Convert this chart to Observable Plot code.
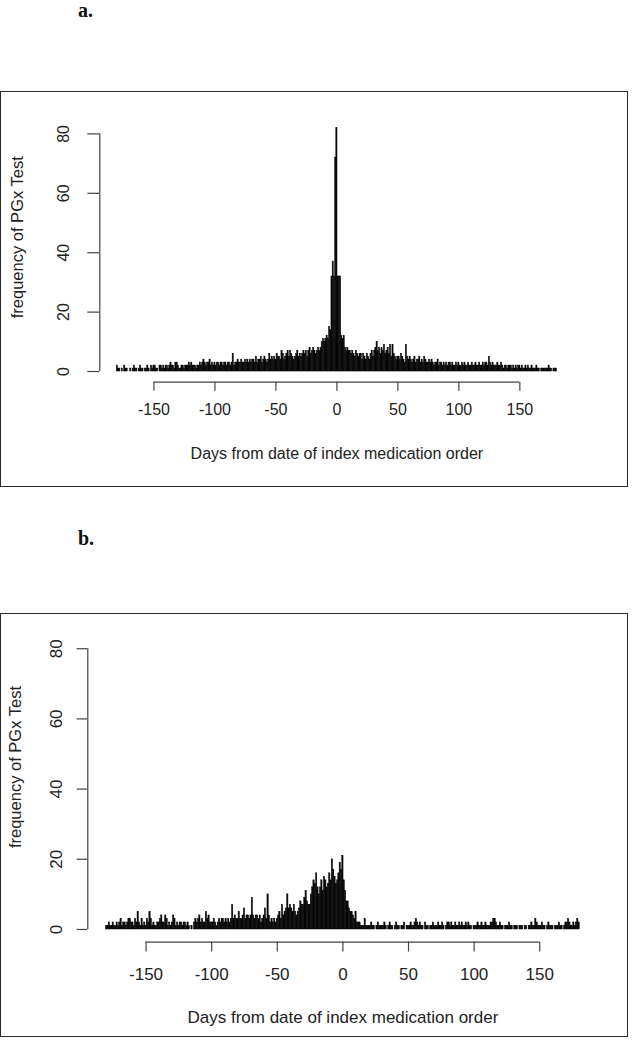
<!DOCTYPE html>
<html><head><meta charset="utf-8">
<script src="https://cdn.jsdelivr.net/npm/d3@7"></script>
<script src="https://cdn.jsdelivr.net/npm/@observablehq/plot@0.6"></script>
<style>
body{margin:0;background:#fff;width:642px;height:1050px;position:relative;overflow:hidden;font-family:"Liberation Sans",Arial,sans-serif;}
.box{position:absolute;left:0;width:628px;box-sizing:border-box;border:1.5px solid #2b2b2b;}
.lab{position:absolute;left:78px;font-family:"Liberation Serif",serif;font-weight:bold;font-size:20px;line-height:1;color:#111;}
.plot{position:absolute;left:0;}
.plot svg{overflow:visible;}
</style></head><body>
<div class="lab" style="top:0px">a.</div>
<div class="box" style="top:91px;height:396px"></div>
<div class="lab" style="top:528px">b.</div>
<div class="box" style="top:613px;height:424px"></div>
<div class="plot" id="pa" style="top:91px"></div>
<div class="plot" id="pb" style="top:600px"></div>
<script>
// days from index medication order
const days = d3.range(-180, 181);
const xTicks = [-150, -100, -50, 0, 50, 100, 150];
const yTicks = [0, 20, 40, 60, 80];
const xTitle = "Days from date of index medication order";
const yTitle = "frequency of PGx Test";

// panel a: frequency per day (-180..180)
const freqA = [
  2,1,1,0,1,0,2,1,1,0, 0,1,0,1,2,1,1,0,1,2, 1,1,0,1,1,2,1,0,2,1,
  2,2,1,1,0,2,2,1,2,1, 2,2,1,2,3,2,2,1,3,3, 2,1,1,2,2,1,2,2,2,3,
  2,3,2,2,2,1,2,2,3,2, 3,4,3,2,3,3,4,2,3,2, 3,2,3,3,2,3,3,2,3,3,
  2,3,3,2,3,6,2,3,3,4, 3,3,4,3,3,4,3,4,3,4, 3,4,4,3,5,3,4,4,5,3,
  4,5,4,3,4,6,4,5,4,5, 4,6,5,5,4,7,6,4,5,6, 7,5,7,6,5,4,5,6,7,5,
  6,5,6,7,6,7,5,7,8,6, 7,8,7,6,7,8,7,8,10,11, 10,11,12,11,15,14,32,37,32,72,
  82,
  32,32,32,12,11,12,8,7,8,7, 7,6,7,6,5,7,6,5,6,6, 4,6,5,4,6,5,4,6,7,5,
  7,8,10,7,8,6,8,7,9,6, 7,8,6,9,5,9,6,5,4,5, 5,4,6,5,4,3,9,5,4,5,
  4,3,4,5,3,4,4,5,3,4, 3,5,4,3,3,4,3,4,3,2, 3,3,4,2,3,3,2,3,2,3,
  2,3,3,2,3,2,2,3,2,3, 2,2,3,2,3,2,2,3,2,2, 3,2,2,3,2,2,3,2,2,3,
  2,3,3,2,5,3,2,3,2,2, 2,3,2,2,3,2,1,2,2,1, 2,2,2,1,2,1,2,1,2,2,
  1,2,1,1,2,1,2,1,1,2, 1,1,1,2,1,1,0,1,1,1, 1,1,1,2,1,1,0,1,1,1
];

// panel b: frequency per day (-180..180)
const freqB = [
  1,1,2,1,1,2,1,1,2,1, 2,3,1,2,2,1,2,3,3,2, 2,1,3,2,5,2,1,3,1,2,
  1,3,2,5,3,1,2,1,1,2, 2,3,4,2,2,4,3,1,2,1, 2,4,3,1,2,1,2,2,1,2,
  2,1,2,1,0,1,0,2,3,2, 3,4,2,3,2,2,5,3,4,2, 2,2,3,2,1,2,3,2,3,3,
  2,3,2,3,2,3,7,3,4,3, 3,5,3,3,4,6,3,4,4,3, 4,9,4,3,4,4,3,4,2,3,
  4,6,3,10,4,2,3,2,3,2, 3,4,5,3,7,4,5,6,10,6, 7,6,5,7,5,4,5,6,8,7,
  7,9,11,8,7,7,10,12,14,13, 16,12,10,12,14,11,15,14,12,13, 16,14,20,17,15,13,14,16,19,17,
  21,
  14,11,8,8,6,5,5,4,3,5, 2,2,2,1,1,1,3,1,1,1, 1,2,1,1,0,1,2,1,1,1,
  1,2,1,0,1,2,1,1,0,1, 2,1,1,0,1,1,2,0,1,1, 1,2,1,1,2,3,2,1,2,1,
  1,0,2,1,1,0,1,1,2,1, 1,1,2,1,1,2,1,0,1,2, 2,1,2,1,1,2,1,1,2,1,
  2,1,1,2,1,2,1,1,0,1, 1,1,2,1,1,2,1,1,2,1, 1,1,2,2,3,3,2,1,1,2,
  1,1,0,1,1,1,2,1,1,0, 1,1,1,0,1,1,1,0,1,1, 0,1,1,2,1,1,3,2,1,1,
  1,2,1,1,0,1,2,1,1,1, 0,1,1,1,2,1,1,0,1,2, 2,3,2,1,1,2,1,2,3,2
];

const xDom = [-194.4, 194.4];
const yDom = [-3.6, 93.6];

function panel(values, o) {
  const data = days.map((d, i) => ({day: d, n: values[i]}));
  return Plot.plot({
    width: 628, height: o.height,
    marginTop: o.mt, marginBottom: o.mb, marginLeft: o.ml, marginRight: o.mr,
    x: {domain: xDom, axis: null},
    y: {domain: yDom, axis: null},
    style: {fontFamily: "'Liberation Sans', Arial, sans-serif", background: "transparent", color: "#222"},
    marks: [
      Plot.rect(data, {x1: d => d.day - 0.5, x2: d => d.day + 0.5, y1: 0, y2: "n",
        fill: "#0a0a0a", stroke: "#000", strokeWidth: 0.45}),
      Plot.ruleX([xDom[0]], {y1: yTicks[0], y2: yTicks[yTicks.length - 1], stroke: "#444", strokeWidth: 1.2}),
      Plot.ruleY([yDom[0]], {x1: xTicks[0], x2: xTicks[xTicks.length - 1], stroke: "#444", strokeWidth: 1.2}),
      Plot.axisX({ticks: xTicks, tickSize: o.xts, tickPadding: o.xtp, tickFormat: d => String(d),
        fontSize: o.fs, stroke: "#444", strokeWidth: 1.2, fill: "#222", label: null}),
      Plot.axisY({ticks: yTicks, tickSize: o.yts, tickFormat: () => "", stroke: "#444", strokeWidth: 1.2, label: null}),
      Plot.text(yTicks, {y: d => d, frameAnchor: "left", text: d => String(d), rotate: -90, dx: o.ydx,
        fontSize: o.fs, lineAnchor: "middle", textAnchor: "middle", fill: "#222"}),
      Plot.text([xTitle], {frameAnchor: "bottom", dy: o.tdy, text: d => d, fontSize: o.fs, lineAnchor: "middle", fill: "#222"}),
      Plot.text([yTitle], {frameAnchor: "left", dx: o.ldx, dy: o.ldy, rotate: -90, text: d => d,
        fontSize: o.lfs, lineAnchor: "middle", textAnchor: "middle", fill: "#222"})
    ]
  });
}

document.getElementById("pa").appendChild(panel(freqA, {
  height: 396, mt: 2, mb: 105.3, ml: 99.3, mr: 54.5,
  xts: 9, xtp: 12.3, yts: 12, ydx: -35.8, tdy: 71.3, ldx: -82, ldy: -0.6, fs: 16, lfs: 16.5
}));
document.getElementById("pb").appendChild(panel(freqB, {
  height: 437, mt: 0.5, mb: 95.4, ml: 87.3, mr: 30.5,
  xts: 10, xtp: 15.4, yts: 10.6, ydx: -31.3, tdy: 75.4, ldx: -71.8, ldy: -4.5, fs: 17, lfs: 16.5
}));
</script>
</body></html>
